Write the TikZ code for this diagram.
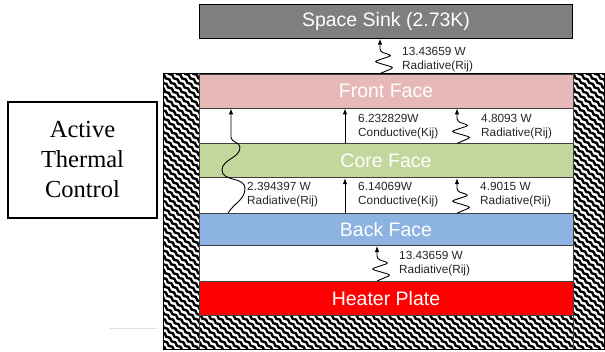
\documentclass[tikz,border=0pt]{standalone}
\usepackage{fontspec}
\setmainfont{Liberation Sans}
\newfontfamily\atcfont{Liberation Serif}
\usetikzlibrary{positioning,arrows.meta,decorations.pathmorphing}

\definecolor{sinkgray}{HTML}{7F7F7F}
\definecolor{frontpink}{HTML}{E6B9B8}
\definecolor{coregreen}{HTML}{C3D69B}
\definecolor{backblue}{HTML}{8DB3E2}
\definecolor{heaterred}{HTML}{FF0000}
\definecolor{edgegray}{HTML}{404040}

\tikzset{
  face/.style={draw=edgegray, line width=0.8pt, minimum width=374pt, minimum height=34pt,
    inner sep=0pt, text=white, font=\fontsize{19.5}{22}\selectfont},
  flowlbl/.style={anchor=west, align=left, inner sep=0pt, text=black!85,
    font=\fontsize{11.8}{14}\selectfont},
  cond/.style={line width=0.9pt, -{Latex[length=6pt,width=4.5pt]}},
  rad/.style={cond, rounded corners=3pt,
    to path={-- ++(14,-6) -- ++(-20,-6) -- ++(18,-6) -- ++(-12,-4) -- (\tikztotarget)}},
}

\begin{document}
\begin{tikzpicture}[x=1pt, y=-1pt, node distance=35pt]
  \useasboundingbox (0,0) rectangle (605,351);
  % insulated wall
  \begin{scope}
    \clip (163,73) rectangle (605,349);
    \foreach \i in {0,...,96}
      \draw[line width=2.4pt, decorate, decoration={snake, amplitude=0.8pt, segment length=7pt}]
        (-185+8.2*\i,65) -- ++(360,306);
  \end{scope}
  \fill[white] (199,73) rectangle (573,313);
  \draw[line width=1pt] (163,73) rectangle (604.5,349);
  \draw[edgegray, line width=0.8pt] (199,73) -- (199,349) (573,73) -- (573,349);
  \draw[gray!25] (110,328) -- (157,328);

  % layers
  \node[face, fill=frontpink] (front) at (386,91) {Front Face};
  \node[face, fill=coregreen, below=of front] (core) {Core Face};
  \node[face, fill=backblue, below=of core, minimum height=32pt] (back) {Back Face};
  \node[face, fill=heaterred, below=of back] (heater) {Heater Plate};
  \node[face, fill=sinkgray, draw=black, above=of front, minimum width=373pt] (sink) {Space Sink (2.73K)};

  \node[draw, line width=1.2pt, minimum width=149pt, minimum height=116pt, align=center,
    font=\atcfont\fontsize{24.5}{30}\selectfont] (atc) at (82.5,160) {Active\\Thermal\\Control};

  % heat paths
  \coordinate (xs) at (380,0);
  \coordinate (xk) at (345,0);
  \coordinate (xr) at (457,0);
  \coordinate (xh) at (377,0);
  \coordinate (xb) at (228,0);
  \coordinate (xl) at (231,0);

  \draw[rad] (front.north -| xs) to (sink.south -| xs);
  \draw[cond] (core.north -| xk) -- (front.south -| xk);
  \draw[rad] (core.north -| xr) to (front.south -| xr);
  \draw[cond] (back.north -| xk) -- (core.south -| xk);
  \draw[rad] (back.north -| xr) to (core.south -| xr);
  \draw[rad] (heater.north -| xh) to (back.south -| xh);
  \draw[cond] (back.north -| xb) to[out=60,in=-90] ++(17,-25) to[out=90,in=-90] ++(-23,-18)
    to[out=90,in=-90] ++(18,-23) to[out=90,in=-90] ++(-9,-10) -- (front.south -| xl);

  \node[flowlbl] (qsink) at (402,60) {13.43659 W\\Radiative(Rij)};
  \node[flowlbl] (qfk) at (358,127) {6.232829W\\Conductive(Kij)};
  \node[flowlbl] (qfr) at (481,127) {4.8093 W\\Radiative(Rij)};
  \node[flowlbl] (qcl) at (247,195) {2.394397 W\\Radiative(Rij)};
  \node[flowlbl] (qck) at (358,195) {6.14069W\\Conductive(Kij)};
  \node[flowlbl] (qcr) at (480,195) {4.9015 W\\Radiative(Rij)};
  \node[flowlbl] (qheat) at (399,264) {13.43659 W\\Radiative(Rij)};
\end{tikzpicture}
\end{document}
